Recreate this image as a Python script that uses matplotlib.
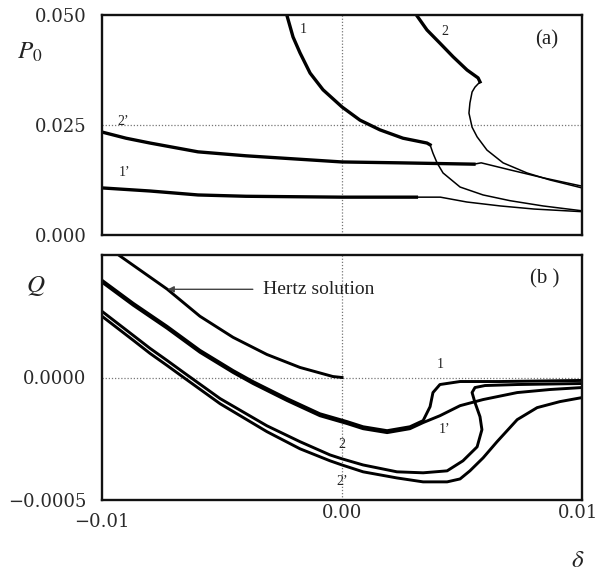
import matplotlib
matplotlib.use("Agg")
import matplotlib.pyplot as plt
import matplotlib.transforms as mtransforms

plt.rcParams['mathtext.fontset'] = 'stix'

# ---- panel (a): P0 vs delta ----
c1_thick_x = [-0.0023, -0.00204, -0.00175, -0.00133, -0.00079, 0.0, 0.00075, 0.00158, 0.00254, 0.00354, 0.00367]
c1_thick_y = [0.050, 0.0450, 0.0414, 0.0368, 0.0330, 0.0291, 0.0261, 0.0239, 0.0220, 0.0209, 0.0205]
c1_thin_x = [0.00367, 0.00379, 0.00396, 0.00421, 0.00492, 0.00588, 0.0070, 0.00838, 0.0100]
c1_thin_y = [0.0205, 0.0186, 0.0164, 0.0141, 0.0109, 0.0091, 0.0078, 0.0066, 0.0055]

c1p_thick_x = [-0.010, -0.008, -0.006, -0.004, -0.002, 0.0, 0.002, 0.0031]
c1p_thick_y = [0.0107, 0.0100, 0.0091, 0.0088, 0.0087, 0.0086, 0.0086, 0.0086]
c1p_thin_x = [0.0031, 0.0041, 0.0052, 0.0066, 0.0080, 0.0100]
c1p_thin_y = [0.0086, 0.0086, 0.0075, 0.0066, 0.0059, 0.0053]

c2p_thick_x = [-0.010, -0.009, -0.008, -0.006, -0.004, -0.002, 0.0, 0.0024, 0.0055]
c2p_thick_y = [0.0234, 0.0220, 0.0209, 0.0189, 0.0180, 0.0173, 0.0166, 0.0164, 0.0161]
c2p_thin_x = [0.0055, 0.0058, 0.0070, 0.00838, 0.0100]
c2p_thin_y = [0.0161, 0.0164, 0.0148, 0.0130, 0.0111]

c2_thick_x = [0.0031, 0.00354, 0.00408, 0.00463, 0.00521, 0.00567, 0.00575]
c2_thick_y = [0.050, 0.0466, 0.0436, 0.0405, 0.0375, 0.0357, 0.0348]
c2_thin_x = [0.00575, 0.00554, 0.00542, 0.00533, 0.00529, 0.00542, 0.00563, 0.00604, 0.00671,
             0.00771, 0.00867, 0.0100]
c2_thin_y = [0.0348, 0.0336, 0.0325, 0.0300, 0.0277, 0.0245, 0.0223, 0.0193, 0.0164,
             0.0141, 0.0125, 0.0107]

# ---- panel (b): Q vs delta ----
hertz_x = [-0.0100, -0.00925, -0.00729, -0.00592, -0.00454, -0.00313, -0.00175, -0.00038, 0.0]
hertz_y = [0.00055, 0.000496, 0.000361, 0.00025, 0.000164, 0.000094, 0.000041, 0.000004, 0.0]

q1_x = [-0.0100, -0.0087, -0.00729, -0.00592, -0.00454, -0.00371, -0.00229, -0.00092, 0.00021, 0.00088,
        0.00188, 0.00283, 0.00338, 0.00367, 0.00379, 0.00408, 0.00492, 0.00658, 0.0100]
q1_y = [0.000397, 0.000303, 0.000209, 0.000111, 0.0000286, -0.0000165, -0.000086, -0.000148, -0.00018,
        -0.000201, -0.000217, -0.000201, -0.000176, -0.000119, -0.0000615, -0.0000287, -0.0000164,
        -0.0000164, -0.000012]

q1p_x = [-0.0100, -0.0087, -0.00729, -0.00592, -0.00454, -0.00371, -0.00229, -0.00092, 0.00021, 0.00088,
         0.00188, 0.00283, 0.00338, 0.00408, 0.00492, 0.00588, 0.0073, 0.00867, 0.0100]
q1p_y = [0.000389, 0.000295, 0.000201, 0.000103, 0.0000206, -0.0000245, -0.000094, -0.000156, -0.000188,
         -0.000209, -0.000225, -0.000209, -0.000184, -0.000156, -0.000115, -0.00009, -0.0000615,
         -0.000049, -0.000041]

q2_x = [-0.0100, -0.0087, -0.0080, -0.00729, -0.00654, -0.00508, -0.00313, -0.00175, -0.0005, 0.0,
        0.00088, 0.00229, 0.00338, 0.00438, 0.00504, 0.00563, 0.00583, 0.00575, 0.00554, 0.00542,
        0.00554, 0.00596, 0.0073, 0.0100]
q2_y = [0.00027, 0.000172, 0.000119, 0.0000697, 0.0000164, -0.000086, -0.000197, -0.000262, -0.000316,
        -0.000332, -0.000357, -0.000385, -0.000389, -0.000381, -0.00034, -0.000283, -0.000213, -0.00016,
        -0.000102, -0.0000615, -0.000041, -0.0000328, -0.0000287, -0.0000246]

q2p_x = [-0.0100, -0.0087, -0.0080, -0.00729, -0.00654, -0.00508, -0.00313, -0.00175, -0.0005, 0.0,
         0.00088, 0.00229, 0.00338, 0.00438, 0.00492, 0.00533, 0.00588, 0.00646, 0.0073, 0.00813,
         0.00908, 0.0100]
q2p_y = [0.00025, 0.000152, 0.0000984, 0.0000492, -0.0000041, -0.000107, -0.000221, -0.000291, -0.00034,
         -0.000357, -0.000385, -0.00041, -0.000426, -0.000426, -0.000414, -0.000381, -0.000328, -0.000262,
         -0.000172, -0.000123, -0.0000984, -0.000082]

x_ticks = [-0.01, 0.0, 0.01]
x_labels = ["\u22120.01", "0.00", "0.01"]
p_ticks = [0.0, 0.025, 0.05]
p_labels = ["0.000", "0.025", "0.050"]
q_ticks = [-0.0005, 0.0]
q_labels = ["\u22120.0005", "0.0000"]

TICKFONT = dict(family="DejaVu Serif", size=13, color="#2a2a2a")
LABFONT = dict(family="Liberation Serif", size=10, color="#222222")
THICK = 2.4
THIN = 1.1
MID = 2.1
GRID = dict(color="#777777", lw=0.9, ls=(0, (1, 1.5)), zorder=0)

fig = plt.figure(figsize=(5.98, 5.75), dpi=100)
ax1 = fig.add_axes([102 / 598, 1 - 235 / 575, 480 / 598, 220 / 575])
ax2 = fig.add_axes([102 / 598, 1 - 500 / 575, 480 / 598, 245 / 575])

for ax in (ax1, ax2):
    ax.set_xlim(-0.01, 0.01)
    for s in ax.spines.values():
        s.set_linewidth(1.7)
        s.set_color("#111111")
    ax.tick_params(length=0, pad=11)
    ax.axvline(0, **GRID)

# panel (a)
ax1.set_ylim(0, 0.05)
ax1.axhline(0.025, **GRID)
ax1.plot(c1_thick_x, c1_thick_y, color="k", lw=THICK, solid_joinstyle="round")
ax1.plot(c1_thin_x, c1_thin_y, color="k", lw=THIN)
ax1.plot(c1p_thick_x, c1p_thick_y, color="k", lw=THICK)
ax1.plot(c1p_thin_x, c1p_thin_y, color="k", lw=THIN)
ax1.plot(c2p_thick_x, c2p_thick_y, color="k", lw=THICK)
ax1.plot(c2p_thin_x, c2p_thin_y, color="k", lw=THIN)
ax1.plot(c2_thick_x, c2_thick_y, color="k", lw=THICK, solid_joinstyle="round")
ax1.plot(c2_thin_x, c2_thin_y, color="k", lw=THIN)
ax1.set_xticks([])
ax1.set_yticks(p_ticks)
ax1.set_yticklabels(p_labels, fontdict=TICKFONT)

ax1.text(-0.0016, 0.0466, "1", ha="center", va="center", **LABFONT)
ax1.text(0.00429, 0.0462, "2", ha="center", va="center", **LABFONT)
ax1.text(-0.00913, 0.0257, "2\u2019", ha="center", va="center", **LABFONT)
ax1.text(-0.00904, 0.0141, "1\u2019", ha="center", va="center", **LABFONT)
ax1.text(0.00854, 0.0443, "(a)", ha="center", va="center", family="Liberation Serif",
         size=15, color="#222222")

# panel (b)
ax2.set_ylim(-0.0005, 0.0005)
ax2.axhline(0.0, **GRID)
ax2.plot(hertz_x, hertz_y, color="k", lw=MID)
ax2.plot(q1_x, q1_y, color="k", lw=MID)
ax2.plot(q1p_x, q1p_y, color="k", lw=MID)
ax2.plot(q2_x, q2_y, color="k", lw=MID)
ax2.plot(q2p_x, q2p_y, color="k", lw=MID)
ax2.set_xticks(x_ticks)
ax2.set_xticklabels(x_labels, fontdict=TICKFONT)
ax2.set_yticks(q_ticks)
ax2.set_yticklabels(q_labels, fontdict=TICKFONT)
ax2.tick_params(axis="x", pad=3)
xl = ax2.get_xticklabels()
xl[0].set_transform(xl[0].get_transform() + mtransforms.ScaledTranslation(0, -9 / 100, fig.dpi_scale_trans))
xl[2].set_transform(xl[2].get_transform() + mtransforms.ScaledTranslation(-4 / 100, 0, fig.dpi_scale_trans))

ax2.annotate("", xy=(-0.00738, 0.00036), xytext=(-0.0036, 0.00036),
             arrowprops=dict(arrowstyle="-|>", color="#444444", lw=1.0, mutation_scale=9))
ax2.text(-0.00329, 0.00036, "Hertz solution", ha="left", va="center",
         family="Liberation Serif", size=14, color="#222222")
ax2.text(0.00408, 0.0000533, "1", ha="center", va="center", **LABFONT)
ax2.text(0.00429, -0.000213, "1\u2019", ha="center", va="center", **LABFONT)
ax2.text(0.0, -0.000275, "2", ha="center", va="center", **LABFONT)
ax2.text(0.0, -0.000426, "2\u2019", ha="center", va="center", **LABFONT)
ax2.text(0.00846, 0.000402, "(b )", ha="center", va="center", family="Liberation Serif",
         size=15, color="#222222")

fig.text(30 / 598, 1 - 52 / 575, r"$P_{\mathrm{0}}$", ha="center", va="center", size=18, color="#222222")
fig.text(36 / 598, 1 - 286 / 575, r"$Q$", ha="center", va="center", size=18, color="#222222")
fig.text(578 / 598, 1 - 560 / 575, r"$\delta$", ha="center", va="center", size=18, color="#222222")

fig.savefig("out.png", dpi=100)
